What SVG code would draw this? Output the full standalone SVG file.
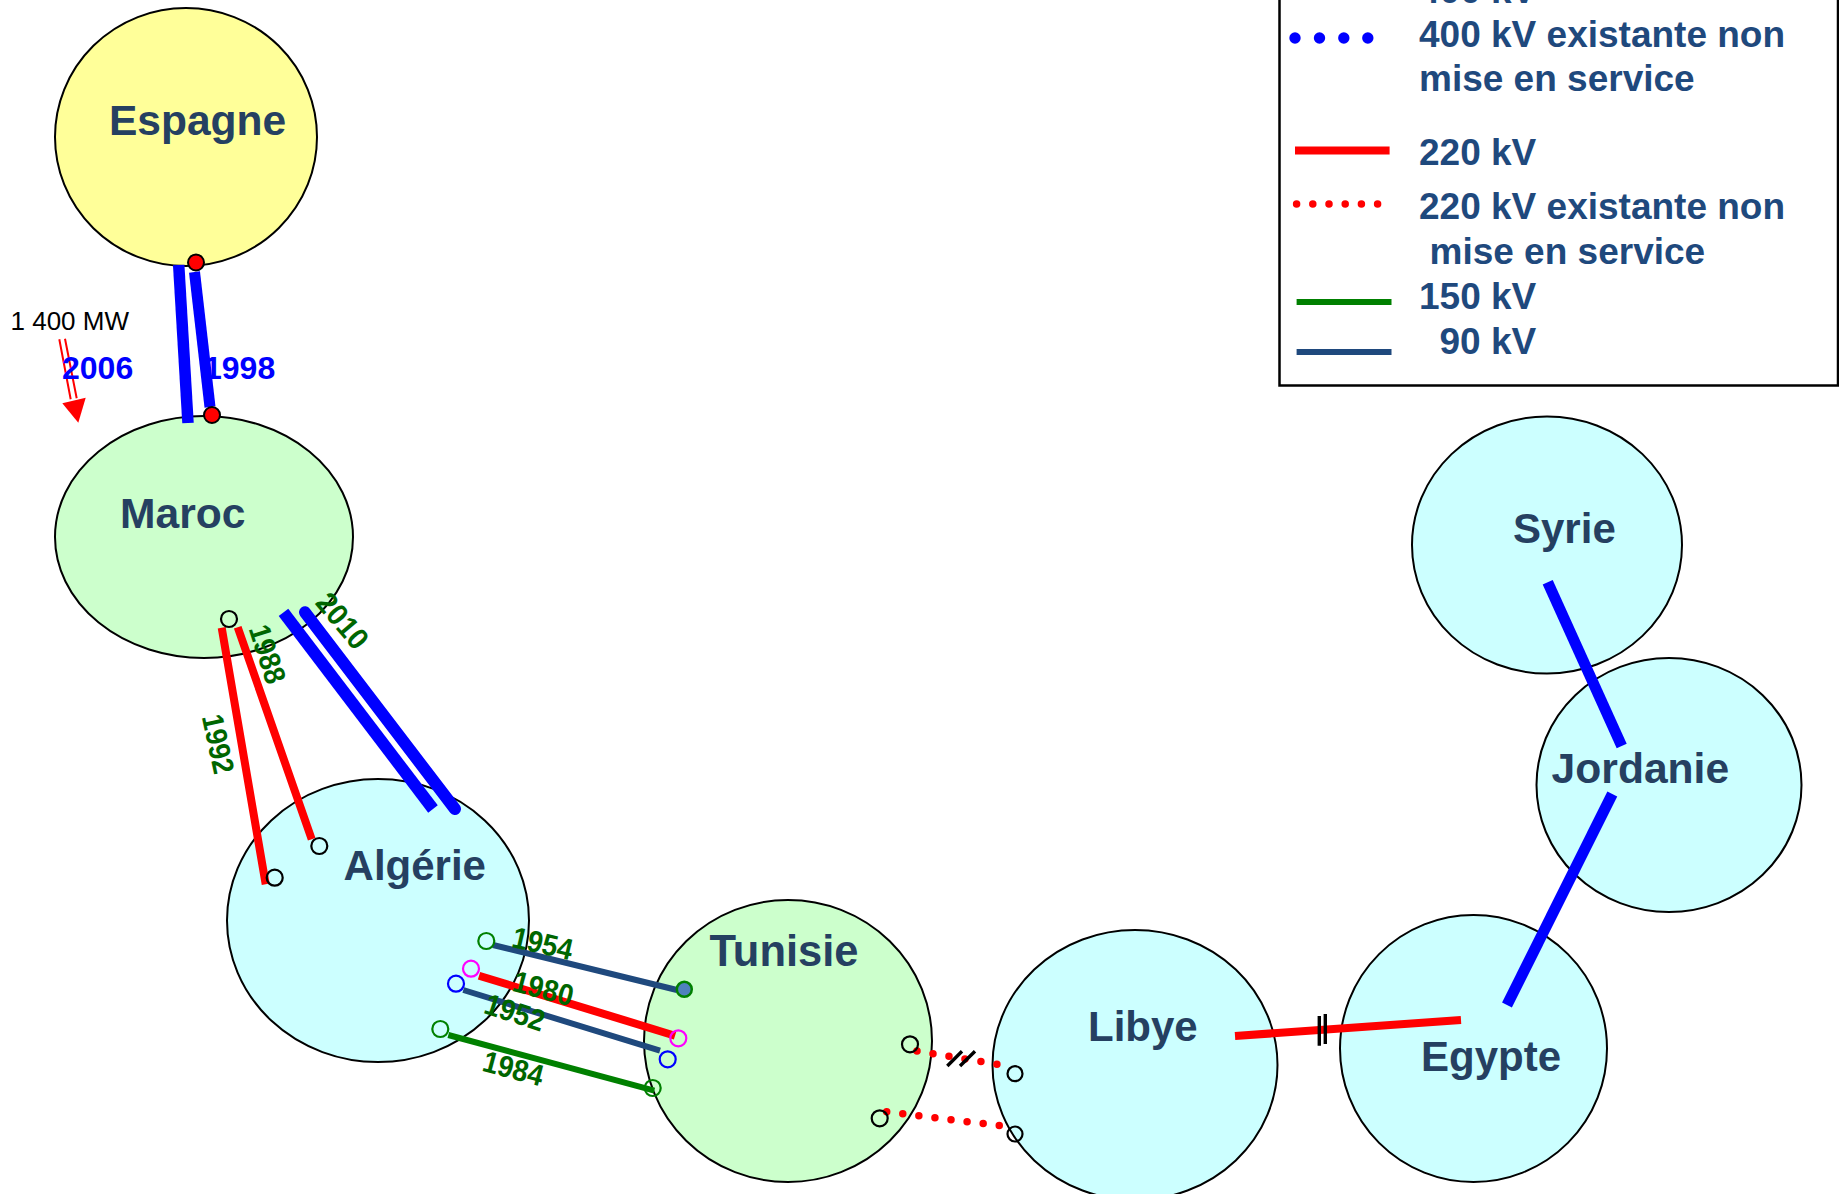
<svg xmlns="http://www.w3.org/2000/svg" width="1839" height="1194" viewBox="0 0 1839 1194">
<style>
.c{stroke:#000;stroke-width:2}
.n{font:bold 42px "Liberation Sans",Arial,sans-serif;fill:#254061}
.l{font:bold 37px "Liberation Sans",Arial,sans-serif;fill:#1F497D}
.y{font:bold 30px "Liberation Sans",Arial,sans-serif;fill:#006600;text-anchor:middle}
.b{font:bold 32px "Liberation Sans",Arial,sans-serif;fill:#0000FF}
.s{fill:none;stroke:#000;stroke-width:2.2}
.bl{stroke:#0000FF;fill:none}
.r{stroke:#FF0000;stroke-width:8;fill:none}
.nv{stroke:#1F497D;stroke-width:6;fill:none}
.g{stroke:#008000;stroke-width:6;fill:none}
.d{stroke:#FF0000;stroke-width:7.5;stroke-linecap:round;stroke-dasharray:0 16.2;fill:none}
.t{stroke:#000;stroke-width:3.4;fill:none}
</style>
<rect width="1839" height="1194" fill="#fff"/>
<g id="espagne"><ellipse class="c" cx="186" cy="137" rx="131" ry="129" fill="#FFFF99"/></g>
<g id="maroc"><ellipse class="c" cx="204" cy="537" rx="149" ry="121" fill="#CCFFCC"/></g>
<g id="algerie"><ellipse class="c" cx="378" cy="920.5" rx="151" ry="141.5" fill="#CCFFFF"/></g>
<g id="tunisie"><ellipse class="c" cx="788" cy="1041" rx="144" ry="141" fill="#CCFFCC"/></g>
<g id="libye"><ellipse class="c" cx="1135" cy="1065" rx="142.5" ry="135" fill="#CCFFFF"/></g>
<g id="egypte"><ellipse class="c" cx="1473.5" cy="1048.5" rx="133.5" ry="133.5" fill="#CCFFFF"/></g>
<g id="syrie"><ellipse class="c" cx="1547" cy="545" rx="135" ry="128.5" fill="#CCFFFF"/></g>
<g id="jordanie"><ellipse class="c" cx="1669" cy="785" rx="132.5" ry="127" fill="#CCFFFF"/></g>
<g id="connectors">
<path class="bl" stroke-width="11.5" d="M178.7 265L188 423"/>
<path class="bl" stroke-width="11" d="M194.5 272L210 407"/>
<path class="r" d="M221.7 627.7L265.7 884.3M237.7 627.3L311.7 839.3"/>
<path class="bl" stroke-width="12" d="M283.5 612.3L433 809"/>
<path class="bl" stroke-width="12" stroke-linecap="round" d="M305 612.3L455 809"/>
<path class="nv" d="M493 945L677 990M463.3 990L660 1050.7"/>
<path class="r" d="M479 975.7L675 1035.7"/>
<path class="g" d="M448.3 1035L654.3 1090.7"/>
<path class="d" d="M917 1051L997.3 1064.3"/>
<path class="d" d="M886.7 1111.7L1000 1125.7"/>
<path class="t" d="M947.3 1066L962 1051.3M960 1066L975 1051.3"/>
<path class="r" d="M1235 1036L1461 1020"/>
<path class="t" d="M1319.3 1016L1319.3 1045.7M1325.3 1014L1325.3 1044"/>
<path class="bl" stroke-width="11" d="M1547.7 582.3L1621.7 746"/>
<path class="bl" stroke-width="11" d="M1612.3 794L1507 1005"/>
<path fill="none" stroke="#FF0000" stroke-width="2" d="M59.3 339.3L70.7 399.3M65 338.7L76.7 398.3"/>
<polygon fill="#FF0000" points="62.3,403.3 85.7,397.7 78.3,422.7"/>
</g>
<g id="stations">
<circle cx="196" cy="262.5" r="8" fill="#FF0000" stroke="#000" stroke-width="2"/>
<circle cx="212" cy="415" r="8" fill="#FF0000" stroke="#000" stroke-width="2"/>
<circle class="s" cx="229" cy="619" r="8"/>
<circle class="s" cx="274.7" cy="877.7" r="8"/>
<circle class="s" cx="319.3" cy="846" r="8"/>
<circle cx="486.3" cy="941" r="8" fill="none" stroke="#008000" stroke-width="2.2"/>
<circle cx="471" cy="968.7" r="8" fill="none" stroke="#FF00FF" stroke-width="2.2"/>
<circle cx="456" cy="983.7" r="8" fill="none" stroke="#0000FF" stroke-width="2.2"/>
<circle cx="440.3" cy="1029" r="8" fill="none" stroke="#008000" stroke-width="2.2"/>
<circle cx="684.3" cy="989.3" r="7.5" fill="#4F81BD" stroke="#008000" stroke-width="2.5"/>
<circle cx="678.3" cy="1038.3" r="8" fill="none" stroke="#FF00FF" stroke-width="2.2"/>
<circle cx="667.7" cy="1059.3" r="8" fill="none" stroke="#0000FF" stroke-width="2.2"/>
<circle cx="652.7" cy="1088" r="8" fill="none" stroke="#008000" stroke-width="2.2"/>
<circle class="s" cx="910" cy="1044.3" r="8"/>
<circle class="s" cx="879.7" cy="1118.3" r="8"/>
<circle class="s" cx="1015" cy="1073.7" r="7.5"/>
<circle class="s" cx="1015" cy="1134" r="7.5"/>
</g>
<g id="names">
<text class="n" x="109" y="135" style="font-size:42.5px">Espagne</text>
<text class="n" x="120" y="527.5" style="font-size:42.6px">Maroc</text>
<text class="n" x="343.6" y="880">Algérie</text>
<text class="n" x="709.5" y="966" style="font-size:43.5px">Tunisie</text>
<text class="n" x="1088" y="1041">Libye</text>
<text class="n" x="1421" y="1071">Egypte</text>
<text class="n" x="1551.6" y="782.5" style="font-size:42.6px">Jordanie</text>
<text class="n" x="1513" y="542.5">Syrie</text>
</g>
<g id="labels">
<text x="10.5" y="330" font-family="'Liberation Sans',Arial,sans-serif" font-size="26" fill="#000">1 400 MW</text>
<text class="b" x="62" y="379">2006</text>
<text class="b" x="204" y="379">1998</text>
<text class="y" transform="translate(267.7 654) rotate(72) scale(.9 1)" y="10.5">1988</text>
<text class="y" transform="translate(342.7 620.7) rotate(50) scale(.95 1)" y="10.5">2010</text>
<text class="y" transform="translate(218.3 744) rotate(78) scale(.9 1)" y="10.5">1992</text>
<text class="y" transform="translate(542.7 943.3) rotate(13) scale(.92 1)" y="10.5">1954</text>
<text class="y" transform="translate(543.3 988.3) rotate(15) scale(.92 1)" y="10.5">1980</text>
<text class="y" transform="translate(515 1012.3) rotate(18) scale(.92 1)" y="10.5">1952</text>
<text class="y" transform="translate(513.3 1068.3) rotate(15) scale(.92 1)" y="10.5">1984</text>
</g>
<g id="legend">
<rect x="1279.5" y="-20" width="558.5" height="405.5" fill="none" stroke="#000" stroke-width="2.5"/>
<text class="l" x="1419" y="3">400 kV</text>
<circle cx="1295" cy="38" r="5.7" fill="#0000FF"/>
<circle cx="1319.5" cy="38" r="5.7" fill="#0000FF"/>
<circle cx="1343.8" cy="38" r="5.7" fill="#0000FF"/>
<circle cx="1367.8" cy="38" r="5.7" fill="#0000FF"/>
<text class="l" x="1419" y="47">400 kV existante non</text>
<text class="l" x="1419" y="90.5">mise en service</text>
<path class="r" d="M1295 150.5H1389.6"/>
<text class="l" x="1419" y="165">220 kV</text>
<path class="d" stroke-dasharray="0 16.3" d="M1296.6 204H1378.2"/>
<text class="l" x="1419" y="219">220 kV existante non</text>
<text class="l" x="1429.5" y="264">mise en service</text>
<path class="g" d="M1296.6 302H1391.5"/>
<text class="l" x="1419" y="309">150 kV</text>
<path class="nv" d="M1296.6 352H1391.5"/>
<text class="l" x="1439.5" y="354">90 kV</text>
</g>
</svg>
